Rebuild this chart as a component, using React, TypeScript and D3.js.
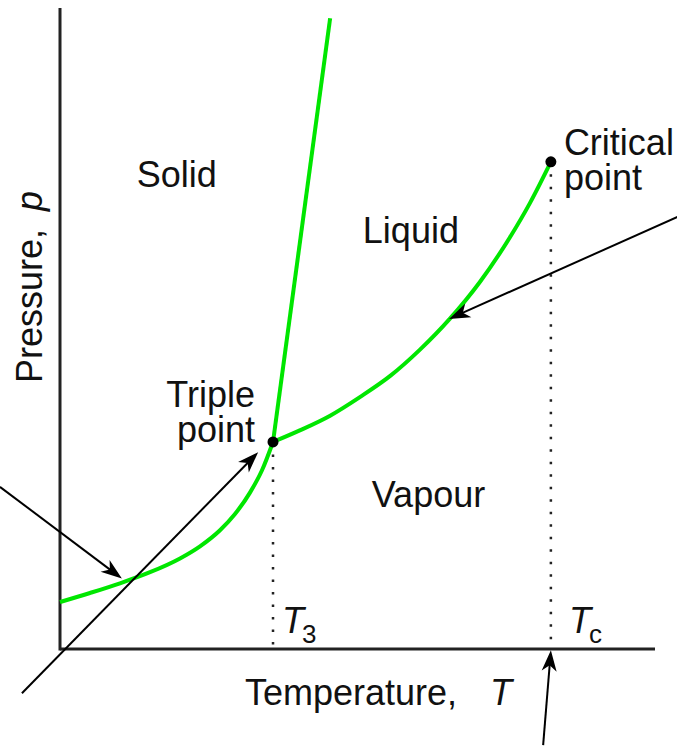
import React from "react";
import * as d3 from "d3";

// Phase diagram data (temperature units 0..100, pressure units 0..100)
const sublimationT = [0, 5.04, 10.08, 15.13, 20.17, 23.53, 26.89, 29.41, 31.93, 33.95, 35.8];
const sublimationP = [7.33, 8.74, 10.25, 11.98, 14.13, 16.02, 18.53, 21.06, 24.4, 27.88, 32.3];
const fusionT = [35.8, 45.4];
const fusionP = [32.3, 98.4];
const vaporT = [35.8, 40.3, 45.4, 50.4, 55.5, 60.5, 65.5, 70.6, 75.6, 79.0, 82.5];
const vaporP = [32.3, 34.1, 36.4, 39.3, 42.6, 46.7, 51.5, 57.3, 64.2, 69.6, 76.0];
const triplePoint = [35.8, 32.3];
const criticalPoint = [82.5, 76.0];
// annotation arrows: [fromT, fromP, toT, toP]
const arrows = [
  [-10.1, 25.3, 10.4, 11.0],
  [-6.4, -6.9, 33.3, 30.7],
  [104.0, 67.5, 65.4, 51.5],
  [81.2, -15.0, 82.5, -0.2],
];
const regionLabels = ["Solid", "Liquid", "Vapour"];
const regionT = [12.9, 50.9, 52.4];
const regionP = [72.1, 63.3, 22.2];

const W = 677;
const H = 751;
const FONT = "'Liberation Sans', Arial, Helvetica, sans-serif";
const GREEN = "#00e600";
const FS = 36;

export default function App() {
  const x = d3.scaleLinear().domain([0, 100]).range([60, 655]);
  const y = d3.scaleLinear().domain([0, 100]).range([649, 8]);

  const line = d3
    .line<[number, number]>()
    .x((d) => x(d[0]))
    .y((d) => y(d[1]))
    .curve(d3.curveMonotoneX);
  const straight = d3
    .line<[number, number]>()
    .x((d) => x(d[0]))
    .y((d) => y(d[1]));

  const sub = sublimationT.map((t, i) => [t, sublimationP[i]] as [number, number]);
  const fus = fusionT.map((t, i) => [t, fusionP[i]] as [number, number]);
  const vap = vaporT.map((t, i) => [t, vaporP[i]] as [number, number]);

  const tx = x(triplePoint[0]);
  const ty = y(triplePoint[1]);
  const cx = x(criticalPoint[0]);
  const cy = y(criticalPoint[1]);

  const arrowHead = (x1: number, y1: number, x2: number, y2: number) => {
    const a = Math.atan2(y2 - y1, x2 - x1);
    const L = 21, w = 7.5, n = 15;
    const pts = [
      [0, 0],
      [-L, -w],
      [-n, 0],
      [-L, w],
    ].map(([px, py]) => [
      x2 + px * Math.cos(a) - py * Math.sin(a),
      y2 + px * Math.sin(a) + py * Math.cos(a),
    ]);
    return "M" + pts.map((p) => p.join(",")).join("L") + "Z";
  };

  return (
    <svg
      width={W}
      height={H}
      style={{ position: "absolute", left: 0, top: 0, background: "#fff" }}
      fontFamily={FONT}
    >
      <rect width={W} height={H} fill="#fff" />
      {/* axes */}
      <line x1={x(0)} y1={y(100)} x2={x(0)} y2={y(0) + 1.5} stroke="#222" strokeWidth={3} />
      <line x1={x(0)} y1={y(0)} x2={x(100)} y2={y(0)} stroke="#222" strokeWidth={3} />

      {/* dotted guides */}
      <line x1={tx} y1={ty} x2={tx} y2={y(0)} stroke="#222" strokeWidth={2.5} strokeDasharray="2.5 10" />
      <line x1={cx} y1={cy} x2={cx} y2={y(0)} stroke="#222" strokeWidth={2.5} strokeDasharray="2.5 10" />

      {/* phase boundaries */}
      <path d={line(sub) || ""} fill="none" stroke={GREEN} strokeWidth={4} />
      <path d={straight(fus) || ""} fill="none" stroke={GREEN} strokeWidth={4} />
      <path d={line(vap) || ""} fill="none" stroke={GREEN} strokeWidth={4} />

      {/* points */}
      <circle cx={tx} cy={ty} r={5.5} fill="#000" />
      <circle cx={cx} cy={cy} r={5.5} fill="#000" />

      {/* arrows */}
      {arrows.map((a, i) => {
        const x1 = x(a[0]), y1 = y(a[1]), x2 = x(a[2]), y2 = y(a[3]);
        const ang = Math.atan2(y2 - y1, x2 - x1);
        const ex = x2 - 14 * Math.cos(ang), ey = y2 - 14 * Math.sin(ang);
        return (
          <g key={i}>
            <line x1={x1} y1={y1} x2={ex} y2={ey} stroke="#000" strokeWidth={2} />
            <path d={arrowHead(x1, y1, x2, y2)} fill="#000" />
          </g>
        );
      })}

      {/* region labels */}
      {regionLabels.map((l, i) => (
        <text key={l} x={x(regionT[i])} y={y(regionP[i])} fontSize={FS} fill="#111">
          {l}
        </text>
      ))}

      {/* triple point label */}
      <text x={tx - 18} y={ty - 35} fontSize={FS} fill="#111" textAnchor="end">Triple</text>
      <text x={tx - 18} y={ty} fontSize={FS} fill="#111" textAnchor="end">point</text>

      {/* critical point label */}
      <text x={cx + 13} y={cy - 7} fontSize={FS} fill="#111">Critical</text>
      <text x={cx + 13} y={cy + 28} fontSize={FS} fill="#111">point</text>

      {/* T3 and Tc */}
      <text x={tx + 9} y={y(0) - 16} fontSize={FS} fill="#111">
        <tspan fontStyle="italic">T</tspan>
        <tspan fontSize={26} dx={-2} dy={10}>3</tspan>
      </text>
      <text x={cx + 18} y={y(0) - 16} fontSize={FS} fill="#111">
        <tspan fontStyle="italic">T</tspan>
        <tspan fontSize={26} dx={-2} dy={10}>c</tspan>
      </text>

      {/* axis titles */}
      <text x={245} y={705} fontSize={FS} fill="#111">Temperature,</text>
      <text x={490} y={705} fontSize={FS} fill="#111" fontStyle="italic">T</text>
      <text transform="translate(42,383) rotate(-90)" fontSize={FS} fill="#111">
        Pressure,
        <tspan dx={18} fontStyle="italic">p</tspan>
      </text>
    </svg>
  );
}
